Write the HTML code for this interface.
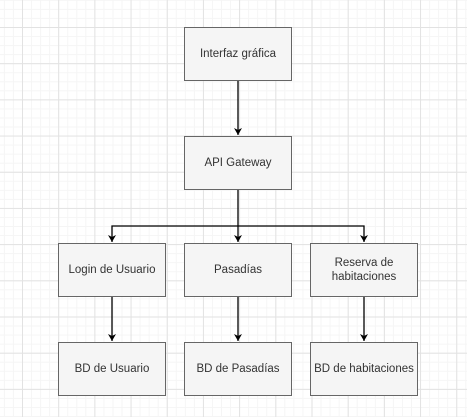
<!DOCTYPE html>
<html><head><meta charset="utf-8"><style>
html,body{margin:0;padding:0;}
body{width:467px;height:417px;position:relative;overflow:hidden;background:#fff;
background-image:
linear-gradient(to right,#e2e2e2 1px,transparent 1px),
linear-gradient(to bottom,#e2e2e2 1px,transparent 1px),
linear-gradient(to right,#f5f5f5 1px,transparent 1px),
linear-gradient(to bottom,#f5f5f5 1px,transparent 1px);
background-size:36.2px 36.2px,36.2px 36.2px,9.05px 9.05px,9.05px 9.05px;
background-position:22px 27px,22px 27px,22px 27px,22px 27px;
font-family:"Liberation Sans",Arial,sans-serif;}
.b{position:absolute;width:108px;height:54px;background:#f5f5f5;border:1px solid #666;box-sizing:border-box;
display:flex;align-items:center;justify-content:center;text-align:center;font-size:11.5px;color:#333;line-height:14px}
svg{position:absolute;left:0;top:0}
</style></head><body>
<svg width="467" height="417">
<defs><marker id="a" markerWidth="8" markerHeight="8" refX="7" refY="4" orient="auto" markerUnits="userSpaceOnUse"><path d="M0,0 L7,4 L0,8 L2,4 Z" fill="#000"/></marker></defs>
<g stroke="#000" stroke-width="1.3" fill="none">
<line x1="238" y1="81" x2="238" y2="135" marker-end="url(#a)"/>
<line x1="238" y1="189" x2="238" y2="242" marker-end="url(#a)"/>
<polyline points="238,226 364,226 364,242" marker-end="url(#a)"/>
<polyline points="238,226 112,226 112,242" marker-end="url(#a)"/>
<line x1="112" y1="297" x2="112" y2="341" marker-end="url(#a)"/>
<line x1="238" y1="297" x2="238" y2="341" marker-end="url(#a)"/>
<line x1="364" y1="297" x2="364" y2="341" marker-end="url(#a)"/>
</g></svg>
<div class="b" style="left:184px;top:27px">Interfaz gráfica</div>
<div class="b" style="left:184px;top:136px">API Gateway</div>
<div class="b" style="left:58px;top:243px">Login de Usuario</div>
<div class="b" style="left:184px;top:243px">Pasadías</div>
<div class="b" style="left:310px;top:243px">Reserva de<br>habitaciones</div>
<div class="b" style="left:58px;top:342px">BD de Usuario</div>
<div class="b" style="left:184px;top:342px">BD de Pasadías</div>
<div class="b" style="left:310px;top:342px">BD de habitaciones</div>
</body></html>
